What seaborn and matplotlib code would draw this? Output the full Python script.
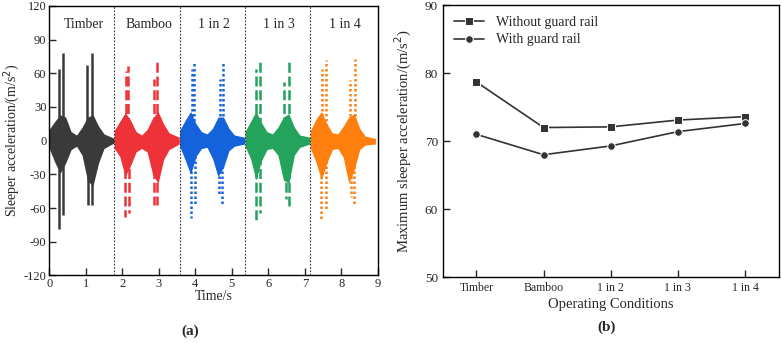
import numpy as np
import pandas as pd
import seaborn as sns
import matplotlib.pyplot as plt

# ---- panel (a): sleeper acceleration time histories ----
conditions = ["Timber", "Bamboo", "1 in 2", "1 in 3", "1 in 4"]
seg_start = [0.0, 1.78, 3.57, 5.36, 7.15]
seg_len = 1.78
colors = ["#3a3a3a", "#ee3338", "#1463dc", "#23a35c", "#ff7f0e"]
styles = ["-", (0, (4, 1.5)), (0, (1, 1)), (0, (4, 1.5)), (0, (1, 1))]

env_t = [0.0, 0.15, 0.3, 0.45, 0.6, 0.75, 0.9, 1.05, 1.2, 1.35, 1.5, 1.78]
upper_timber = [10, 17, 23, 21, 8, 5, 12, 21, 23, 13, 6, 2]
lower_timber = [-7, -19, -29, -20, -8, -5, -13, -36, -40, -20, -7, -2]
upper_bamboo = [9, 17, 25, 18, 8, 5, 10, 20, 26, 15, 7, 3]
lower_bamboo = [-7, -14, -32, -22, -10, -7, -10, -30, -38, -17, -8, -3]
upper_1in2 = [9, 18, 26, 15, 8, 6, 11, 21, 21, 11, 5, 3]
lower_1in2 = [-5, -17, -30, -14, -7, -6, -16, -32, -24, -9, -5, -3]
upper_1in3 = [8, 17, 26, 16, 8, 6, 12, 21, 24, 12, 5, 3]
lower_1in3 = [-5, -16, -35, -18, -8, -7, -13, -35, -38, -13, -6, -3]
upper_1in4 = [9, 19, 26, 15, 7, 6, 13, 21, 24, 11, 4, 2]
lower_1in4 = [-7, -19, -35, -20, -8, -7, -15, -38, -26, -8, -4, -3]

# spikes (absolute time, peak value)
spike_t_timber = [0.28, 0.37, 1.04, 1.17, 0.27, 0.39, 1.07, 1.18]
spike_v_timber = [64, 78, 67, 78, -79, -66, -57, -57]
spike_t_bamboo = [2.10, 2.16, 2.87, 2.96, 2.08, 2.19, 2.87, 2.96]
spike_v_bamboo = [62, 66, 55, 72, -68, -64, -57, -57]
spike_t_1in2 = [3.90, 3.96, 4.68, 4.77, 3.88, 3.98, 4.64, 4.72]
spike_v_1in2 = [64, 69, 55, 70, -69, -57, -48, -57]
spike_t_1in3 = [5.67, 5.76, 6.42, 6.57, 5.67, 5.78, 6.48, 6.57]
spike_v_1in3 = [64, 70, 52, 72, -72, -64, -52, -58]
spike_t_1in4 = [7.48, 7.57, 8.23, 8.36, 7.45, 7.57, 8.25, 8.34]
spike_v_1in4 = [64, 72, 54, 73, -71, -62, -50, -58]

uppers = [upper_timber, upper_bamboo, upper_1in2, upper_1in3, upper_1in4]
lowers = [lower_timber, lower_bamboo, lower_1in2, lower_1in3, lower_1in4]
spike_ts = [spike_t_timber, spike_t_bamboo, spike_t_1in2, spike_t_1in3, spike_t_1in4]
spike_vs = [spike_v_timber, spike_v_bamboo, spike_v_1in2, spike_v_1in3, spike_v_1in4]

# ---- panel (b): maximum sleeper acceleration ----
cases = ["Timber", "Bamboo", "1 in 2", "1 in 3", "1 in 4"]
without_rail = [78.7, 72.0, 72.1, 73.1, 73.6]
with_rail = [71.0, 68.0, 69.3, 71.4, 72.6]

sns.set_style("ticks")
plt.rcParams["font.family"] = ["Liberation Serif", "DejaVu Serif"]
plt.rcParams["xtick.direction"] = "in"
plt.rcParams["ytick.direction"] = "in"
plt.rcParams["axes.linewidth"] = 1.0
plt.rcParams["axes.unicode_minus"] = False

fig = plt.figure(figsize=(7.81, 3.43), dpi=100)
ax1 = fig.add_axes([0.063, 0.197, 0.421, 0.786])
ax2 = fig.add_axes([0.567, 0.192, 0.430, 0.793])

for i, name in enumerate(conditions):
    t = np.array(env_t) + seg_start[i]
    ax1.fill_between(t, lowers[i], uppers[i], color=colors[i], lw=0)
    ax1.vlines(spike_ts[i], 0, spike_vs[i], colors=colors[i],
               linestyles=styles[i], lw=1.8)
    ax1.text(seg_start[i] + seg_len / 2 + 0.05, 103, name,
             ha="center", va="center", fontsize=10)
    if i > 0:
        ax1.axvline(seg_start[i], color="#333333", ls=(0, (1.5, 1.5)), lw=0.8)

ax1.set_xlim(0, 9)
ax1.set_ylim(-120, 120)
ax1.set_xticks(range(0, 10))
ax1.set_yticks(range(-120, 121, 30))
ax1.tick_params(labelsize=9, length=5, width=1.0, pad=2)
ax1.set_xlabel("Time/s", fontsize=10, labelpad=0)
ax1.set_ylabel("Sleeper acceleration/(m/s$^2$)", fontsize=10)
ax1.yaxis.set_label_coords(-0.083, 0.5)

df = pd.DataFrame({
    "case": cases * 2,
    "value": without_rail + with_rail,
    "series": ["Without guard rail"] * 5 + ["With guard rail"] * 5,
})
sns.lineplot(data=df, x="case", y="value", style="series",
             markers=["s", "o"], dashes=False, color="#333333",
             markersize=5.5, lw=1.2, ax=ax2, sort=False)
ax2.set_xlim(-0.5, 4.5)
ax2.set_ylim(50, 90)
ax2.set_yticks([50, 60, 70, 80, 90])
ax2.tick_params(labelsize=9.5, length=5, width=1.0)
ax2.tick_params(axis="x", labelsize=8.5)
ax2.set_xlabel("Operating Conditions", fontsize=10.5, labelpad=3)
ax2.set_ylabel("Maximum sleeper acceleration/(m/s$^2$)", fontsize=10.5)
ax2.yaxis.set_label_coords(-0.085, 0.5)
ax2.legend(loc="upper left", frameon=False, fontsize=10, title=None,
           handlelength=2.2, borderaxespad=0.4, labelspacing=0.3)

for ax in (ax1, ax2):
    for s in ax.spines.values():
        s.set_visible(True)
        s.set_color("black")

fig.text(0.243, 0.035, "(a)", ha="center", va="center", fontsize=11, fontweight="bold")
fig.text(0.777, 0.047, "(b)", ha="center", va="center", fontsize=11, fontweight="bold")

fig.savefig("out.png", dpi=100)
